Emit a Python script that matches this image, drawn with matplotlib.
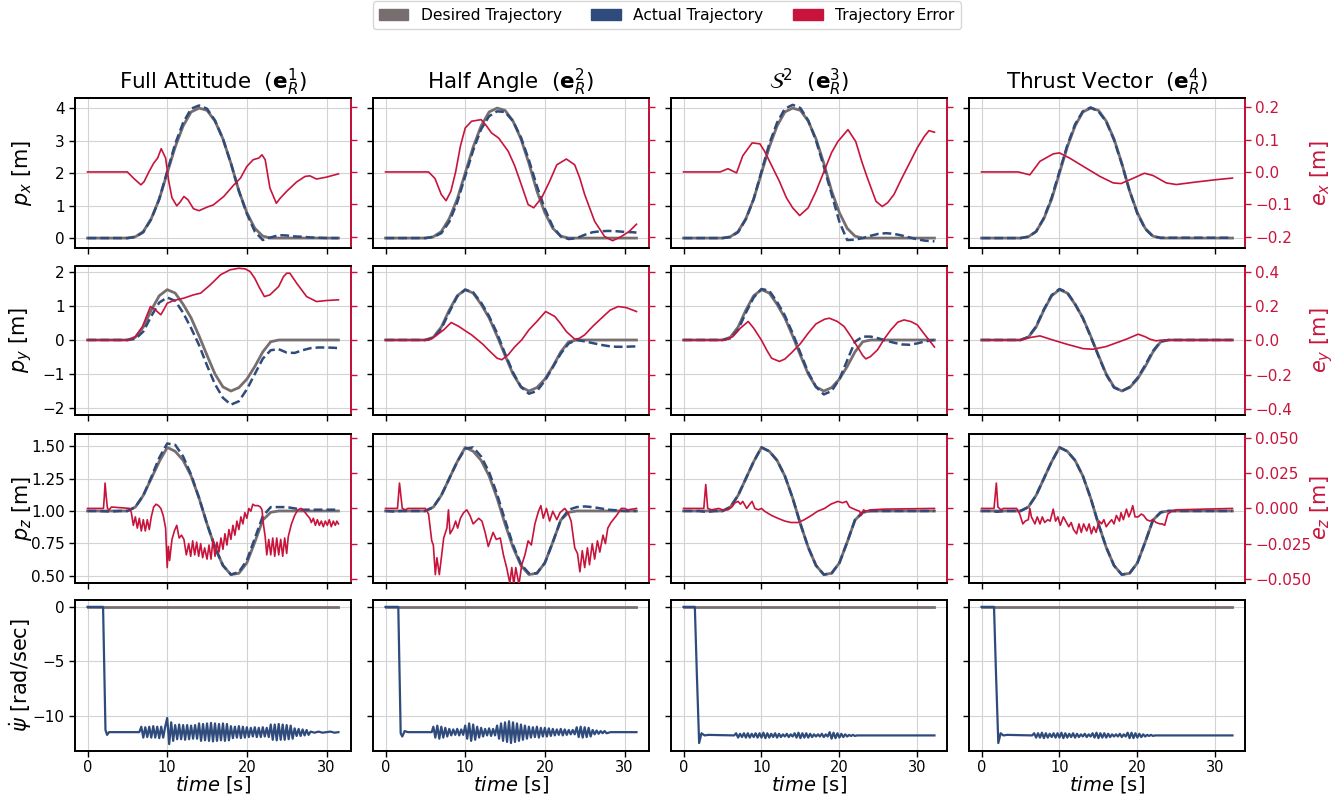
import numpy as np
import matplotlib
matplotlib.use("Agg")
import matplotlib.pyplot as plt
from matplotlib.patches import Patch

C_DES = "#776e70"
C_ACT = "#2f4b7c"
C_ERR = "#c8143c"

TITLES = [r"Full Attitude  ($\mathbf{e}_R^1$)", r"Half Angle  ($\mathbf{e}_R^2$)",
          r"$\mathcal{S}^2$  ($\mathbf{e}_R^3$)", r"Thrust Vector  ($\mathbf{e}_R^4$)"]
LEGEND_LABELS = ["Desired Trajectory", "Actual Trajectory", "Trajectory Error"]

# ---- time grids for trajectories (1 s samples) ----
T_A = [0, 1, 2, 3, 4, 5, 6, 7, 8, 9, 10, 11, 12, 13, 14, 15, 16, 17, 18, 19, 20,
       21, 22, 23, 24, 25, 26, 27, 28, 29, 30, 31, 31.5]
T_B = [0, 1, 2, 3, 4, 5, 6, 7, 8, 9, 10, 11, 12, 13, 14, 15, 16, 17, 18, 19, 20,
       21, 22, 23, 24, 25, 26, 27, 28, 29, 30, 31, 32.2]

# ---- desired ----
px_des = [0, 0, 0, 0, 0, 0, 0.04, 0.2, 0.6, 1.2, 2.0, 2.8, 3.45, 3.88, 4.0, 3.93, 3.6,
          3.05, 2.3, 1.45, 0.78, 0.3, 0.06, 0, 0, 0, 0, 0, 0, 0, 0, 0, 0]
py_des = [0, 0, 0, 0, 0, 0, 0.08, 0.38, 0.88, 1.3, 1.48, 1.38, 1.05, 0.65, 0.12, -0.45,
          -1.0, -1.38, -1.5, -1.4, -1.15, -0.78, -0.35, -0.05, 0, 0, 0, 0, 0, 0, 0, 0, 0]
pz_des = [1, 1, 1, 1, 1, 1, 1.03, 1.12, 1.25, 1.38, 1.49, 1.46, 1.39, 1.27, 1.1, 0.9,
          0.72, 0.58, 0.51, 0.52, 0.6, 0.76, 0.93, 0.99, 1, 1, 1, 1, 1, 1, 1, 1, 1]

# ---- actual px ----
px_act_0 = [0, 0, 0, 0, 0, 0, 0.03, 0.18, 0.58, 1.2, 2.05, 2.9, 3.55, 3.98, 4.08, 3.98,
            3.62, 3.05, 2.3, 1.45, 0.75, 0.2, -0.06, 0.02, 0.09, 0.08, 0.05, 0.04, 0.02,
            0.01, 0, 0, 0]
px_act_1 = [0, 0, 0, 0, 0, 0, 0.03, 0.15, 0.5, 1.1, 1.9, 2.7, 3.35, 3.75, 3.9, 3.88,
            3.6, 3.1, 2.4, 1.6, 0.9, 0.35, 0.05, -0.03, 0.0, 0.1, 0.18, 0.21, 0.22, 0.21,
            0.19, 0.18, 0.17]
px_act_2 = [0, 0, 0, 0, 0, 0, 0.03, 0.18, 0.58, 1.2, 2.05, 2.9, 3.55, 3.98, 4.1, 4.0,
            3.62, 3.0, 2.2, 1.35, 0.5, -0.06, -0.05, 0.0, 0.07, 0.13, 0.15, 0.13, 0.08,
            0.02, -0.04, -0.08, -0.1]
px_act_3 = [0, 0, 0, 0, 0, 0, 0.04, 0.2, 0.62, 1.25, 2.05, 2.85, 3.5, 3.9, 4.02, 3.9,
            3.58, 3.02, 2.28, 1.45, 0.75, 0.28, 0.05, 0.01, 0.01, 0.01, 0.01, 0.01, 0.01,
            0.01, 0.01, 0.01, 0.01]

# ---- actual py ----
py_act_0 = [0, 0, 0, 0, 0, 0, 0.03, 0.25, 0.7, 1.1, 1.25, 1.15, 0.8, 0.35, -0.15, -0.75,
            -1.3, -1.7, -1.9, -1.8, -1.45, -1.0, -0.55, -0.3, -0.27, -0.37, -0.38, -0.3,
            -0.24, -0.22, -0.22, -0.23, -0.24]
py_act_1 = [0, 0, 0, 0, 0, 0, 0.06, 0.33, 0.82, 1.28, 1.48, 1.4, 1.1, 0.7, 0.2, -0.4,
            -0.95, -1.38, -1.58, -1.5, -1.2, -0.8, -0.4, -0.1, 0.0, -0.04, -0.09, -0.14,
            -0.18, -0.2, -0.2, -0.19, -0.19]
py_act_2 = [0, 0, 0, 0, 0, 0, 0.05, 0.3, 0.8, 1.25, 1.5, 1.45, 1.12, 0.72, 0.2, -0.38,
            -0.95, -1.38, -1.6, -1.5, -1.15, -0.6, -0.05, 0.1, 0.1, 0.05, -0.02, -0.08,
            -0.13, -0.14, -0.1, -0.04, 0.0]
py_act_3 = [0, 0, 0, 0, 0, 0, 0.09, 0.4, 0.9, 1.32, 1.5, 1.4, 1.06, 0.64, 0.1, -0.47,
            -1.02, -1.4, -1.5, -1.38, -1.12, -0.74, -0.32, -0.04, 0, 0, 0, 0, 0, 0, 0, 0, 0]

# ---- actual pz ----
pz_act_0 = [1, 1, 0.998, 0.996, 1, 1, 1.03, 1.12, 1.26, 1.41, 1.52, 1.51, 1.42, 1.28,
            1.1, 0.9, 0.72, 0.58, 0.51, 0.53, 0.62, 0.79, 0.96, 1.03, 1.03, 1.03, 1.02,
            1.01, 1.01, 1.01, 1.01, 1.01, 1.01]
pz_act_1 = [1, 0.996, 1, 1, 1, 1, 1.03, 1.12, 1.25, 1.38, 1.48, 1.49, 1.42, 1.3, 1.13,
            0.93, 0.74, 0.59, 0.52, 0.52, 0.6, 0.76, 0.93, 1.01, 1.03, 1.035, 1.03, 1.02,
            1.01, 1.005, 1.0, 1.0, 1.0]
pz_act_2 = [1, 1, 1, 0.992, 1, 1, 1.03, 1.12, 1.25, 1.38, 1.49, 1.46, 1.39, 1.27, 1.1,
            0.9, 0.72, 0.58, 0.51, 0.52, 0.6, 0.76, 0.93, 0.99, 1, 1, 1, 1, 1, 1, 1, 1, 1]
pz_act_3 = [1, 1, 0.994, 1, 1, 1, 1.03, 1.12, 1.25, 1.38, 1.49, 1.46, 1.39, 1.27, 1.1,
            0.9, 0.72, 0.58, 0.51, 0.52, 0.6, 0.76, 0.93, 0.99, 1, 1, 1, 1, 1, 1, 1, 1, 1]

# ---- errors (time, value) ----
ex_t_0 = [0, 5.0, 5.8, 6.7, 7.1, 7.7, 8.3, 8.8, 9.25, 9.8, 10.2, 10.6, 11.2, 11.6, 12.1,
          12.6, 13.3, 14.0, 15.0, 15.8, 17.1, 18.3, 19.2, 20.0, 20.8, 21.5, 21.9, 22.3,
          22.9, 23.7, 24.2, 25.0, 26.25, 27.3, 27.9, 28.75, 30.0, 31.5]
ex_v_0 = [0, 0, -0.02, -0.04, -0.03, 0.0, 0.027, 0.043, 0.072, 0.043, -0.03, -0.08,
          -0.105, -0.094, -0.076, -0.086, -0.114, -0.12, -0.109, -0.102, -0.076, -0.042,
          -0.019, 0.017, 0.038, 0.043, 0.053, 0.038, -0.05, -0.097, -0.081, -0.06, -0.031,
          -0.014, -0.012, -0.022, -0.016, -0.006]
ex_t_1 = [0, 5.4, 6.2, 7.0, 7.6, 8.2, 8.8, 9.4, 10.0, 10.8, 12.0, 12.6, 13.3, 14.2, 15.4,
          16.2, 16.9, 17.9, 18.6, 19.6, 20.6, 21.5, 22.7, 23.75, 24.4, 25.0, 26.25, 27.5,
          28.5, 29.6, 30.6, 31.5]
ex_v_1 = [0, 0, -0.02, -0.07, -0.089, -0.06, 0.0, 0.08, 0.136, 0.157, 0.162, 0.145,
          0.121, 0.105, 0.064, 0.02, -0.029, -0.101, -0.111, -0.08, -0.029, 0.022, 0.04,
          0.022, -0.02, -0.07, -0.153, -0.2, -0.213, -0.2, -0.184, -0.162]
ex_t_2 = [0, 4.7, 5.7, 6.8, 7.6, 8.8, 9.8, 10.4, 11.3, 12.3, 13.2, 14.0, 14.9, 16.0, 17.0,
          18.0, 19.0, 19.8, 21.1, 22.1, 22.9, 23.6, 24.7, 25.5, 26.2, 27.0, 28.0, 29.1,
          30.0, 30.9, 31.5, 32.2]
ex_v_2 = [0, 0, 0.01, -0.003, 0.05, 0.09, 0.087, 0.064, 0.02, -0.029, -0.08, -0.111,
          -0.135, -0.111, -0.06, 0.0, 0.06, 0.094, 0.131, 0.094, 0.03, -0.019, -0.091,
          -0.107, -0.095, -0.07, -0.02, 0.032, 0.075, 0.11, 0.128, 0.123]
ex_t_3 = [0, 4.7, 6.2, 7.5, 9.2, 10.0, 11.3, 13.0, 15.2, 16.9, 17.9, 19.7, 20.9, 22.0,
          23.7, 25.0, 27.6, 30.1, 32.2]
ex_v_3 = [0, 0, -0.009, 0.033, 0.056, 0.059, 0.043, 0.018, -0.014, -0.034, -0.036,
          -0.017, -0.004, -0.011, -0.034, -0.039, -0.031, -0.024, -0.019]

ey_t_0 = [0, 5.2, 6.0, 6.9, 7.5, 7.9, 8.5, 9.2, 9.6, 10.0, 10.8, 12.1, 13.3, 14.2, 15.4,
          16.7, 17.9, 19.0, 19.8, 20.4, 21.0, 21.5, 22.2, 22.9, 24.0, 24.6, 25.0, 25.4,
          26.25, 27.5, 28.75, 30.0, 31.5]
ey_v_0 = [0, 0, 0.02, 0.08, 0.15, 0.196, 0.177, 0.148, 0.18, 0.215, 0.231, 0.245, 0.264,
          0.274, 0.322, 0.381, 0.41, 0.419, 0.415, 0.4, 0.36, 0.313, 0.254, 0.264, 0.313,
          0.37, 0.39, 0.39, 0.332, 0.254, 0.225, 0.231, 0.235]
ey_t_1 = [0, 5.4, 6.3, 7.3, 8.25, 9.2, 10.0, 10.8, 12.3, 12.9, 14.0, 14.6, 15.4, 16.2,
          17.1, 18.0, 19.0, 20.1, 21.25, 22.0, 22.7, 23.75, 24.3, 25.0, 26.0, 27.1, 28.2,
          29.2, 30.2, 31.5]
ey_v_1 = [0, 0, 0.025, 0.06, 0.103, 0.08, 0.055, 0.031, -0.027, -0.056, -0.105, -0.114,
          -0.085, -0.04, 0.002, 0.06, 0.109, 0.167, 0.138, 0.095, 0.05, 0.006, 0.01, 0.031,
          0.08, 0.128, 0.175, 0.196, 0.19, 0.167]
ey_t_2 = [0, 5.3, 6.3, 7.3, 8.3, 9.0, 10.0, 10.7, 11.3, 12.3, 13.0, 13.8, 15.0, 16.0,
          17.0, 18.1, 18.7, 19.7, 20.6, 21.5, 22.3, 23.0, 23.4, 24.0, 24.9, 25.8, 26.6,
          27.5, 28.3, 29.2, 30.0, 31.0, 32.2]
ey_v_2 = [0, 0, 0.02, 0.07, 0.109, 0.07, 0.0, -0.06, -0.105, -0.124, -0.11, -0.076,
          -0.02, 0.041, 0.095, 0.122, 0.128, 0.11, 0.08, 0.02, -0.037, -0.09, -0.109,
          -0.095, -0.056, 0.01, 0.06, 0.105, 0.118, 0.108, 0.089, 0.03, -0.04]
ey_t_3 = [0, 4.9, 6.2, 7.5, 8.8, 10.9, 13.0, 14.3, 16.0, 18.6, 20.1, 21.0, 21.6, 22.4,
          23.0, 32.2]
ey_v_3 = [0, 0, 0.015, 0.025, 0.006, -0.023, -0.049, -0.053, -0.037, 0.006, 0.035, 0.02,
          0.006, -0.004, 0.0, 0.0]

ez_t_0 = [0, 2.0, 2.1, 2.2, 2.35, 2.5, 2.7, 3.0, 5.3, 5.5, 5.75, 6.0, 6.25, 6.5, 6.75,
          7.0, 7.25, 7.5, 7.75, 8.0, 8.3, 8.6, 8.9, 9.2, 9.5, 9.8, 10.0, 10.15, 10.3, 10.6,
          10.9, 11.2, 11.5, 11.8, 12.1, 12.4, 12.7, 12.95, 13.2, 13.45, 13.7, 13.95, 14.2,
          14.45, 14.7, 15.0, 15.25, 15.5, 15.75, 16.0, 16.25, 16.5, 16.75, 17.0, 17.25,
          17.5, 17.75, 18.0, 18.25, 18.5, 18.75, 19.0, 19.25, 19.5, 19.75, 20.0, 20.25,
          20.5, 20.75, 21.0, 21.4, 21.7, 21.9, 22.1, 22.3, 22.5, 22.75, 23.0, 23.25, 23.5,
          23.75, 24.0, 24.25, 24.5, 24.75, 25.0, 25.2, 25.6, 26.0, 26.4, 26.8, 27.2, 27.6,
          27.9, 28.1, 28.35, 28.6, 28.85, 29.1, 29.35, 29.6, 29.85, 30.1, 30.35, 30.6,
          30.85, 31.1, 31.3, 31.5]
ez_v_0 = [0, 0, 0.008, 0.018, 0.008, 0.0, -0.001, 0.001, 0.0, -0.003, -0.012, -0.006,
          -0.014, -0.007, -0.016, -0.008, -0.016, -0.008, -0.015, -0.006, 0.001, 0.003,
          0.002, 0.0, -0.005, -0.014, -0.042, -0.027, -0.037, -0.022, -0.016, -0.012,
          -0.021, -0.019, -0.022, -0.033, -0.025, -0.034, -0.023, -0.033, -0.024, -0.034,
          -0.025, -0.035, -0.028, -0.036, -0.026, -0.036, -0.022, -0.034, -0.024, -0.031,
          -0.021, -0.029, -0.018, -0.026, -0.015, -0.022, -0.012, -0.019, -0.009, -0.015,
          -0.006, -0.011, -0.003, -0.007, 0.0, -0.002, 0.003, 0.002, 0.002, 0.001, -0.001,
          -0.012, -0.02, -0.033, -0.022, -0.033, -0.021, -0.034, -0.021, -0.033, -0.022,
          -0.034, -0.021, -0.032, -0.02, -0.011, -0.005, -0.001, 0.0, -0.002, -0.005,
          -0.007, -0.01, -0.007, -0.012, -0.008, -0.012, -0.009, -0.013, -0.009, -0.012,
          -0.008, -0.013, -0.009, -0.012, -0.009, -0.011]
ez_t_1 = [0, 1.5, 1.75, 2.1, 2.5, 2.8, 5.0, 5.4, 5.8, 6.0, 6.25, 6.45, 6.75, 7.05, 7.3,
          7.7, 7.9, 8.1, 8.5, 8.8, 9.05, 9.4, 9.8, 10.2, 10.6, 11.0, 11.7, 12.1, 12.5,
          12.9, 13.5, 13.9, 14.4, 14.8, 15.2, 15.6, 15.85, 16.1, 16.35, 16.75, 17.1, 17.5,
          17.9, 18.3, 18.75, 19.2, 19.5, 19.8, 20.2, 20.6, 21.0, 21.5, 21.9, 22.5, 22.9,
          23.3, 23.75, 24.1, 24.4, 24.7, 25.0, 25.35, 25.6, 25.95, 26.25, 26.6, 26.9, 27.3,
          27.6, 27.9, 28.3, 29.0, 29.6, 30.0, 30.4, 31.5]
ez_v_1 = [0, 0, 0.018, 0.0, -0.001, 0.0, 0.0, -0.004, -0.023, -0.026, -0.047, -0.035,
          -0.047, -0.033, -0.021, -0.014, -0.001, -0.018, -0.014, -0.009, -0.014, -0.007,
          -0.003, -0.001, -0.005, -0.011, -0.007, -0.009, -0.017, -0.027, -0.017, -0.022,
          -0.021, -0.033, -0.042, -0.053, -0.042, -0.054, -0.042, -0.054, -0.04, -0.033,
          -0.023, -0.026, -0.011, -0.002, 0.002, -0.007, 0.0, -0.009, -0.002, -0.008,
          -0.003, 0.0, -0.003, -0.009, -0.028, -0.032, -0.045, -0.03, -0.042, -0.028,
          -0.04, -0.025, -0.036, -0.023, -0.031, -0.019, -0.025, -0.014, -0.01, -0.005,
          0.0, 0.0, -0.001, 0.0]
ez_t_2 = [0, 2.6, 2.85, 3.1, 3.6, 4.5, 5.0, 5.7, 6.2, 6.6, 7.0, 7.3, 7.6, 8.1, 8.5, 8.8,
          9.15, 9.6, 10.0, 10.4, 11.3, 12.1, 13.0, 13.8, 14.7, 15.5, 16.4, 17.2, 18.1, 18.9,
          19.8, 20.4, 20.9, 21.3, 21.7, 22.1, 22.6, 22.8, 23.1, 23.4, 24.0, 25.8, 32.2]
ez_v_2 = [0, 0, 0.017, 0.0, -0.001, 0.0, -0.001, -0.001, 0.001, 0.004, 0.005, 0.003,
          0.005, 0.0, 0.003, 0.005, 0.0, -0.001, 0.0, -0.002, -0.005, -0.007, -0.009,
          -0.01, -0.01, -0.008, -0.005, -0.002, 0.0, 0.003, 0.005, 0.004, 0.005, 0.001,
          0.0, -0.001, -0.002, -0.005, -0.001, -0.002, -0.001, -0.0005, 0.0]
ez_t_3 = [0, 1.6, 1.9, 2.1, 2.5, 2.8, 4.5, 4.9, 5.3, 5.6, 6.0, 6.2, 6.4, 6.85, 7.15, 7.5,
          7.8, 8.1, 8.5, 8.8, 9.2, 9.5, 9.8, 10.1, 10.5, 10.9, 11.2, 11.5, 11.8, 12.2, 12.5,
          12.8, 13.1, 13.5, 13.8, 14.1, 14.4, 14.7, 15.1, 15.4, 15.7, 16.0, 16.4, 16.7,
          17.0, 17.3, 17.7, 17.9, 18.2, 18.6, 18.9, 19.2, 19.4, 19.7, 20.1, 20.5, 20.8,
          21.2, 21.6, 22.0, 22.4, 22.9, 23.2, 23.5, 23.9, 24.4, 25.0, 32.2]
ez_v_3 = [0, 0, 0.018, 0.001, -0.001, 0.0, 0.0, -0.004, -0.011, -0.009, -0.008, 0.0,
          -0.006, -0.011, -0.006, -0.011, -0.006, -0.01, -0.008, -0.009, -0.0005, -0.009,
          -0.006, -0.012, -0.006, -0.01, -0.013, -0.01, -0.015, -0.018, -0.011, -0.017,
          -0.011, -0.016, -0.011, -0.018, -0.013, -0.017, -0.009, -0.011, -0.008, -0.013,
          -0.01, -0.008, -0.011, -0.005, -0.009, -0.003, -0.008, -0.0005, -0.006, -0.002,
          0.002, -0.006, -0.006, -0.004, -0.005, -0.008, -0.009, -0.008, -0.01, -0.011,
          -0.011, -0.012, -0.004, -0.002, -0.001, 0.0]

# ---- yaw rate ----
psi_des = [0, 0, 0, 0, 0, 0, 0, 0, 0, 0, 0, 0, 0, 0, 0, 0, 0, 0, 0, 0, 0, 0, 0, 0, 0, 0,
           0, 0, 0, 0, 0, 0, 0]
psi_t_0 = [0, 1.95, 2.25, 2.45, 2.7, 3.0, 6.5] + [6.75 + 0.25 * i for i in range(85)] + \
          [28.0, 28.5, 29.0, 29.5, 30.0, 30.5, 31.0, 31.5]
psi_v_0 = [0, 0, -11.3, -11.75, -11.5, -11.5, -11.5,
           -11.0, -12.0, -11.05, -11.95, -11.0, -12.0, -10.95, -12.0, -11.0, -12.05, -11.0, -12.0, -11.0,
           -10.2, -12.6, -10.6, -12.3,
           -10.85, -12.15, -10.8, -12.15, -10.85, -12.2, -10.85, -12.15, -10.9, -12.1, -10.85, -12.1,
           -10.7, -12.3, -10.75, -12.25, -10.7, -12.3, -10.65, -12.35, -10.7, -12.3, -10.75, -12.25, -10.7, -12.3, -10.75, -12.25,
           -10.95, -12.05, -11.0, -12.0, -10.95, -12.05, -11.0, -12.0,
           -11.05, -11.95, -11.1, -11.9, -11.05, -11.95, -11.1, -11.95, -11.05, -11.9, -11.1, -11.95,
           -10.8, -12.2, -10.8, -12.25, -10.75, -12.2, -10.8, -12.2, -10.85, -12.15, -10.9, -12.1,
           -11.15, -11.85, -11.2, -11.85, -11.25, -11.8, -11.3, -11.75,
           -11.45, -11.55, -11.45, -11.55, -11.5, -11.45, -11.55, -11.5]
psi_t_1 = [0, 1.6, 1.9, 2.1, 2.4, 2.8, 5.8] + [6.0 + 0.25 * i for i in range(88)] + \
          [28.25, 29.0, 29.5, 30.0, 30.5, 31.0, 31.5]
psi_v_1 = [0, 0, -11.6, -11.9, -11.4, -11.5, -11.5,
           -11.0, -12.0, -10.9, -12.1, -11.0, -12.0, -11.1, -11.9,
           -11.2, -11.8, -11.25, -11.75, -11.2, -11.8, -11.25, -11.75,
           -10.9, -12.1, -10.7, -12.3, -10.8, -12.2, -11.0, -12.0,
           -11.1, -11.9, -11.2, -11.8, -11.15, -11.85, -11.2, -11.8,
           -10.9, -12.1, -10.7, -12.3, -10.6, -12.4, -10.5, -12.5, -10.6, -12.4, -10.7, -12.3, -10.8, -12.2, -10.9, -12.1,
           -11.0, -12.0, -11.05, -11.95, -11.0, -12.0, -11.1, -11.9, -11.1, -11.9, -11.15, -11.85,
           -11.2, -11.8, -11.25, -11.75, -11.2, -11.8, -11.25, -11.75, -11.3, -11.7, -11.3, -11.7,
           -11.05, -11.95, -11.0, -12.0, -11.05, -11.95, -11.1, -11.9,
           -11.3, -11.7, -11.35, -11.65, -11.4, -11.6, -11.4, -11.6,
           -11.5, -11.5, -11.5, -11.5, -11.5, -11.5, -11.5]
psi_t_2 = [0, 1.45, 1.7, 2.0, 2.3, 2.7, 3.2, 6.5] + [6.75 + 0.25 * i for i in range(64)] + \
          [23.0, 24.0, 26.0, 28.0, 30.0, 32.2]
psi_v_2 = [0, 0, -6.0, -12.5, -11.6, -11.8, -11.75, -11.8] + \
          [-11.6, -12.0, -11.65, -11.95, -11.6, -12.0, -11.6, -12.0, -11.65, -11.95, -11.6, -12.0,
           -11.6, -12.0, -11.55, -12.05, -11.6, -12.0, -11.65, -11.95, -11.6, -12.0, -11.65, -11.95,
           -11.7, -11.9, -11.65, -11.95, -11.7, -11.9, -11.6, -12.0, -11.55, -12.05, -11.6, -12.0,
           -11.6, -12.0, -11.65, -11.95, -11.7, -11.9, -11.7, -11.9, -11.65, -11.95, -11.7, -11.9,
           -11.5, -12.1, -11.55, -12.05, -11.6, -12.0, -11.65, -11.95, -11.7, -11.9, -11.75, -11.85,
           -11.75, -11.85, -11.8, -11.8] + [-11.8, -11.8, -11.8, -11.8, -11.8, -11.8]
psi_t_3 = [0, 1.6, 1.85, 2.15, 2.45, 2.8, 3.3, 6.5] + [6.75 + 0.25 * i for i in range(64)] + \
          [23.0, 24.0, 26.0, 28.0, 30.0, 32.2]
psi_v_3 = [0, 0, -6.0, -12.5, -11.6, -11.8, -11.75, -11.8] + \
          [-11.6, -12.0, -11.6, -12.0, -11.55, -12.05, -11.6, -12.0, -11.65, -11.95, -11.6, -12.0,
           -11.6, -12.0, -11.55, -12.05, -11.6, -12.0, -11.65, -11.95, -11.6, -12.0, -11.65, -11.95,
           -11.7, -11.9, -11.65, -11.95, -11.7, -11.9, -11.6, -12.0, -11.55, -12.05, -11.6, -12.0,
           -11.6, -12.0, -11.65, -11.95, -11.7, -11.9, -11.7, -11.9, -11.65, -11.95, -11.7, -11.9,
           -11.55, -12.05, -11.55, -12.05, -11.6, -12.0, -11.65, -11.95, -11.7, -11.9, -11.75, -11.85,
           -11.75, -11.85, -11.8, -11.8] + [-11.8, -11.8, -11.8, -11.8, -11.8, -11.8]

T_COLS = [T_A, T_A, T_B, T_B]
PX_ACT = [px_act_0, px_act_1, px_act_2, px_act_3]
PY_ACT = [py_act_0, py_act_1, py_act_2, py_act_3]
PZ_ACT = [pz_act_0, pz_act_1, pz_act_2, pz_act_3]
EX = [(ex_t_0, ex_v_0), (ex_t_1, ex_v_1), (ex_t_2, ex_v_2), (ex_t_3, ex_v_3)]
EY = [(ey_t_0, ey_v_0), (ey_t_1, ey_v_1), (ey_t_2, ey_v_2), (ey_t_3, ey_v_3)]
EZ = [(ez_t_0, ez_v_0), (ez_t_1, ez_v_1), (ez_t_2, ez_v_2), (ez_t_3, ez_v_3)]
PSI = [(psi_t_0, psi_v_0), (psi_t_1, psi_v_1), (psi_t_2, psi_v_2), (psi_t_3, psi_v_3)]

# ---- figure ----
W, H = 1340, 795
fig = plt.figure(figsize=(W / 100, H / 100), dpi=100)


def rect(x0, y0, w, h):
    return [x0 / W, 1 - (y0 + h) / H, w / W, h / H]


LEFTS = [75, 373, 671, 969]
AW = 276
TOPS = [98, 265.5, 433.5, 600]
HS = [149.5, 149, 149, 151]

ROW_LIMS = [(-0.29, 4.31), (-2.19, 2.19), (0.449, 1.597), (-13.23, 0.63)]
ROW_TICKS = [[0, 1, 2, 3, 4], [-2, -1, 0, 1, 2], [0.5, 0.75, 1.0, 1.25, 1.5], [-10, -5, 0]]
ERR_LIMS = [(-0.234, 0.229), (-0.433, 0.435), (-0.0526, 0.0532)]
ERR_TICKS = [[-0.2, -0.1, 0, 0.1, 0.2], [-0.4, -0.2, 0, 0.2, 0.4],
             [-0.05, -0.025, 0, 0.025, 0.05]]
YLABELS = [r"$p_x$ [m]", r"$p_y$ [m]", r"$p_z$ [m]", r"$\dot{\psi}$ [rad/sec]"]
ELABELS = [r"$e_x$ [m]", r"$e_y$ [m]", r"$e_z$ [m]"]

DES = [px_des, py_des, pz_des]
ACTS = [PX_ACT, PY_ACT, PZ_ACT]
ERRS = [EX, EY, EZ]

for c in range(4):
    t = T_COLS[c]
    xmax = t[-1]
    for r in range(4):
        ax = fig.add_axes(rect(LEFTS[c], TOPS[r], AW, HS[r]))
        ax.grid(True, color="#d3d3d3", linewidth=0.8)
        ax.set_axisbelow(True)
        if r < 3:
            ax.plot(t, DES[r], color=C_DES, lw=2.0, zorder=2)
            ax.plot(t, ACTS[r][c], color=C_ACT, lw=1.8, ls=(0, (3.5, 1.6)), zorder=3)
        else:
            ax.plot(t, psi_des, color=C_DES, lw=2.0, zorder=2)
            ax.plot(PSI[c][0], PSI[c][1], color=C_ACT, lw=1.6, zorder=3)
        ax.set_xlim(-0.05 * xmax, 1.05 * xmax)
        ax.set_ylim(*ROW_LIMS[r])
        ax.set_yticks(ROW_TICKS[r])
        ax.set_xticks([0, 10, 20, 30])
        ax.tick_params(labelsize=11, direction="out", length=4, width=1)
        ax.tick_params(axis="x", labelsize=10.5, pad=2.5)
        for s in ax.spines.values():
            s.set_linewidth(1.4)
        if c > 0:
            ax.tick_params(labelleft=False)
        else:
            ax.set_ylabel(YLABELS[r], fontsize=15)
            ax.yaxis.set_label_coords(-0.15, 0.5)
        if r < 3:
            ax.tick_params(labelbottom=False)
        else:
            ax.set_xlabel(r"$time$ [s]", fontsize=14, labelpad=-1)
        if r == 0:
            ax.set_title(TITLES[c], fontsize=15.5, pad=2)
        if r < 3:
            ax2 = ax.twinx()
            et, ev = ERRS[r][c]
            ax2.plot(et, ev, color=C_ERR, lw=1.2, zorder=4)
            ax2.set_ylim(*ERR_LIMS[r])
            ax2.set_yticks(ERR_TICKS[r])
            for s in ax2.spines.values():
                s.set_linewidth(1.4)
            ax2.spines["right"].set_color(C_ERR)
            ax2.tick_params(axis="y", colors=C_ERR, labelcolor=C_ERR, labelsize=11,
                            length=4, width=1)
            if c < 3:
                ax2.tick_params(labelright=False)
            else:
                ax2.set_ylabel(ELABELS[r], fontsize=15, color=C_ERR)
                ax2.yaxis.set_label_coords(1.228, 0.5)

handles = [Patch(facecolor=C_DES, edgecolor=C_DES), Patch(facecolor=C_ACT, edgecolor=C_ACT),
           Patch(facecolor=C_ERR, edgecolor=C_ERR)]
fig.legend(handles, LEGEND_LABELS, loc="upper center", bbox_to_anchor=(0.4975, 1.008),
           ncol=3, fontsize=11.2, frameon=True, handlelength=1.9, columnspacing=1.9)

fig.savefig("out.png", dpi=100)
